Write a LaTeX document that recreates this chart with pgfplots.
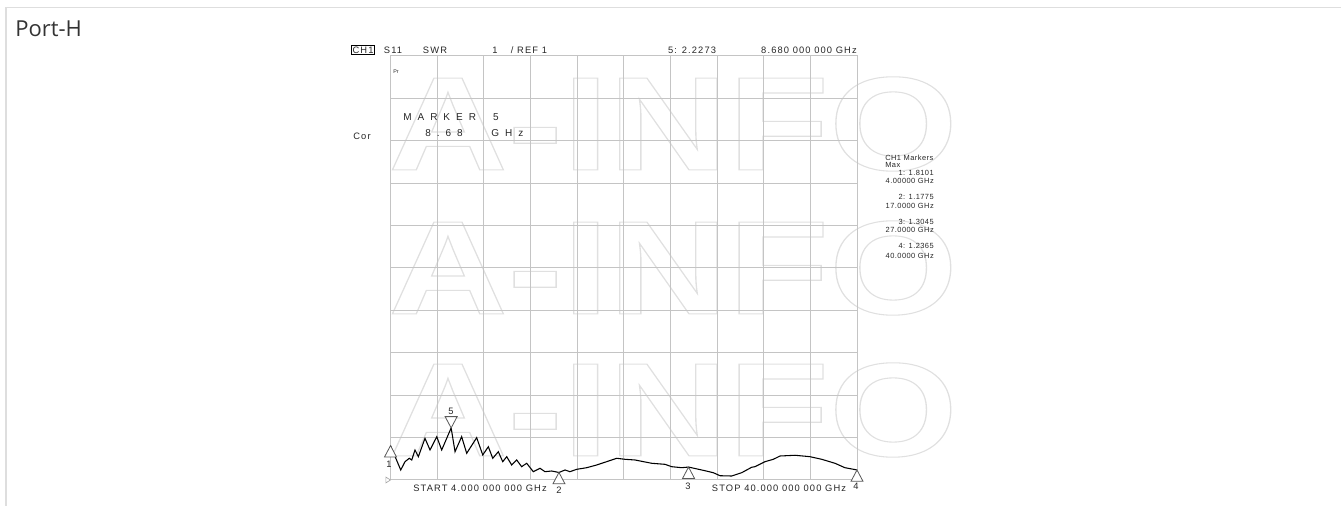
\documentclass[border=0pt]{standalone}
\usepackage{fontspec}
\setmainfont{Liberation Sans}
\newfontfamily\opensans{Open Sans}
\newfontfamily\vna[LetterSpace=12]{Liberation Sans}
\newfontfamily\vnatab[LetterSpace=6]{Liberation Sans}
\newfontfamily\vnawide[LetterSpace=60]{Liberation Sans}
\usepackage{pgfplots}
\pgfplotsset{compat=1.18}
\definecolor{gridc}{HTML}{C4C4C4}
\definecolor{wm}{HTML}{E0E0E0}
\definecolor{txt}{HTML}{333333}
\definecolor{pagefr}{HTML}{DEDEDE}

% marker triangles, apex on the data point
\pgfdeclareplotmark{mkup}{%
  \pgfpathmoveto{\pgfpoint{0pt}{0pt}}%
  \pgfpathlineto{\pgfpoint{4.5pt}{-8.5pt}}%
  \pgfpathlineto{\pgfpoint{-4.5pt}{-8.5pt}}%
  \pgfpathclose\pgfusepathqfillstroke}
\pgfdeclareplotmark{mkdown}{%
  \pgfpathmoveto{\pgfpoint{0pt}{0pt}}%
  \pgfpathlineto{\pgfpoint{4.5pt}{8.5pt}}%
  \pgfpathlineto{\pgfpoint{-4.5pt}{8.5pt}}%
  \pgfpathclose\pgfusepathqfillstroke}
\pgfdeclareplotmark{mkref}{%
  \pgfpathmoveto{\pgfpoint{0pt}{0pt}}%
  \pgfpathlineto{\pgfpoint{-3.5pt}{2.2pt}}%
  \pgfpathlineto{\pgfpoint{-3.5pt}{-2.2pt}}%
  \pgfpathclose\pgfusepathqstroke}

\newcommand{\sm}{\vna\fontsize{7}{7}\selectfont}
\newcommand{\tb}{\vnatab\fontsize{5.6}{5.6}\selectfont}

\begin{document}
\begin{tikzpicture}
\path[use as bounding box] (0,0) rectangle (1005.75pt,379.5pt);

% page frame, title and watermark (pixel coordinates, y downwards)
\begin{scope}[x=0.75pt,y=-0.75pt,shift={(0pt,379.5pt)}]
  \draw[pagefr, line width=1.1pt] (6,506) -- (6,7.5) -- (1341,7.5);
  \node[anchor=base west, inner sep=0, text=txt,
        font=\opensans\fontsize{16.5}{16.5}\selectfont] at (15,37) {Port-H};
  % outlined watermark (text render mode 1 = stroke only)
  \foreach \yy in {124,268,410}
    \node[inner sep=0, xscale=1.24, text=wm, font=\bfseries\fontsize{100}{100}\selectfont]
      at (673,\yy) {\special{pdf:code 1 Tr 0.8 w}A-INFO\special{pdf:code 0 Tr}};
\end{scope}

\begin{axis}[
  at={(292.875pt,19.5pt)}, anchor=south west,
  width=349.875pt, height=318pt, scale only axis,
  xmin=4, xmax=40, ymin=1, ymax=11,
  xtick={4,7.6,11.2,14.8,18.4,22,25.6,29.2,32.8,36.4,40},
  ytick={1,2,...,11},
  xticklabels={}, yticklabels={},
  major tick length=0pt,
  grid=major,
  grid style={gridc, line width=0.75pt},
  axis line style={gridc, line width=0.75pt},
  clip=false,
]
% S11 SWR trace, 4-40 GHz
\addplot[black, line width=0.8pt, mark=none] coordinates {
  (4.00,1.810)(4.79,1.236)(5.12,1.432)(5.45,1.512)(5.64,1.472)(5.89,1.708)
  (6.15,1.550)(6.66,1.983)(7.05,1.708)(7.57,2.021)(7.95,1.708)(8.68,2.227)
  (8.98,1.667)(9.49,2.021)(9.88,1.630)(10.65,1.998)(11.12,1.590)(11.55,1.785)
  (11.89,1.512)(12.32,1.667)(12.66,1.432)(12.97,1.550)(13.35,1.354)(13.74,1.472)
  (14.12,1.314)(14.51,1.394)(15.02,1.196)(15.54,1.276)(15.92,1.196)(16.44,1.212)
  (17.00,1.178)(17.47,1.236)(17.85,1.196)(18.37,1.252)(19.14,1.290)(19.91,1.354)
  (20.68,1.432)(21.46,1.512)(22.10,1.488)(22.87,1.472)(24.16,1.394)(25.18,1.370)
  (25.70,1.314)(26.47,1.290)(27.00,1.305)(28.27,1.219)(28.91,1.172)(29.43,1.101)
  (30.33,1.094)(31.10,1.172)(31.87,1.300)(32.13,1.314)(32.90,1.432)(33.54,1.488)
  (34.06,1.566)(35.22,1.583)(36.37,1.550)(37.28,1.488)(38.30,1.394)(39.07,1.290)
  (40.00,1.237)
};
% markers 1-4 (below trace) and 5 (above)
\addplot[only marks, mark=mkup, mark options={draw=black!65, fill=white, line width=0.6pt}]
  coordinates {(4,1.8101)(17,1.1775)(27,1.3045)(40,1.2365)};
\addplot[only marks, mark=mkdown, mark options={draw=black!65, fill=white, line width=0.6pt}]
  coordinates {(8.68,2.2273)};
% reference level
\addplot[only marks, mark=mkref, mark options={draw=black!35, line width=0.5pt}]
  coordinates {(4,1)};
\end{axis}

% instrument annotations
\begin{scope}[x=0.75pt,y=-0.75pt,shift={(0pt,379.5pt)}, every node/.style={inner sep=0, text=black!85}]
  \node[draw, line width=0.5pt, inner sep=1pt, font=\sm] at (363,50) {CH1};
  \node[font=\sm] at (393,50) {S11};
  \node[font=\sm] at (435,50) {SWR};
  \node[font=\sm] at (495,50) {1};
  \node[font=\sm] at (529,50) {/ REF 1};
  \node[font=\sm] at (692,50) {5: 2.2273};
  \node[font=\sm, anchor=east] at (857,50) {8.680 000 000 GHz};
  \node[font=\fontsize{4}{4}\selectfont] at (396,72) {Pr};
  \node[font=\sm] at (362,136) {Cor};
  \node[font=\vnawide\fontsize{7.5}{7.5}\selectfont, anchor=west] at (403,117) {MARKER};
  \node[font=\vnawide\fontsize{7.5}{7.5}\selectfont] at (496,117) {5};
  \node[font=\vnawide\fontsize{7.5}{7.5}\selectfont, anchor=west] at (425,133) {8.68};
  \node[font=\vnawide\fontsize{7.5}{7.5}\selectfont, anchor=west] at (491,133) {GHz};
  % marker list
  \node[font=\tb, anchor=west] at (885,158) {CH1 Markers};
  \node[font=\tb, anchor=west] at (885,165) {Max};
  \node[font=\tb, anchor=east] at (934,173) {1: 1.8101};
  \node[font=\tb, anchor=east] at (934,181) {4.00000 GHz};
  \node[font=\tb, anchor=east] at (934,197) {2: 1.1775};
  \node[font=\tb, anchor=east] at (934,206) {17.0000 GHz};
  \node[font=\tb, anchor=east] at (934,222) {3: 1.3045};
  \node[font=\tb, anchor=east] at (934,230) {27.0000 GHz};
  \node[font=\tb, anchor=east] at (934,246) {4: 1.2365};
  \node[font=\tb, anchor=east] at (934,256) {40.0000 GHz};
  % marker numbers
  \node[font=\sm] at (389,464) {1};
  \node[font=\sm] at (451,411) {5};
  \node[font=\sm] at (559,490) {2};
  \node[font=\sm] at (688,486) {3};
  \node[font=\sm] at (856,486) {4};
  % sweep limits
  \node[font=\sm] at (480,488) {START 4.000 000 000 GHz};
  \node[font=\sm] at (779,488) {STOP 40.000 000 000 GHz};
\end{scope}
\end{tikzpicture}
\end{document}
